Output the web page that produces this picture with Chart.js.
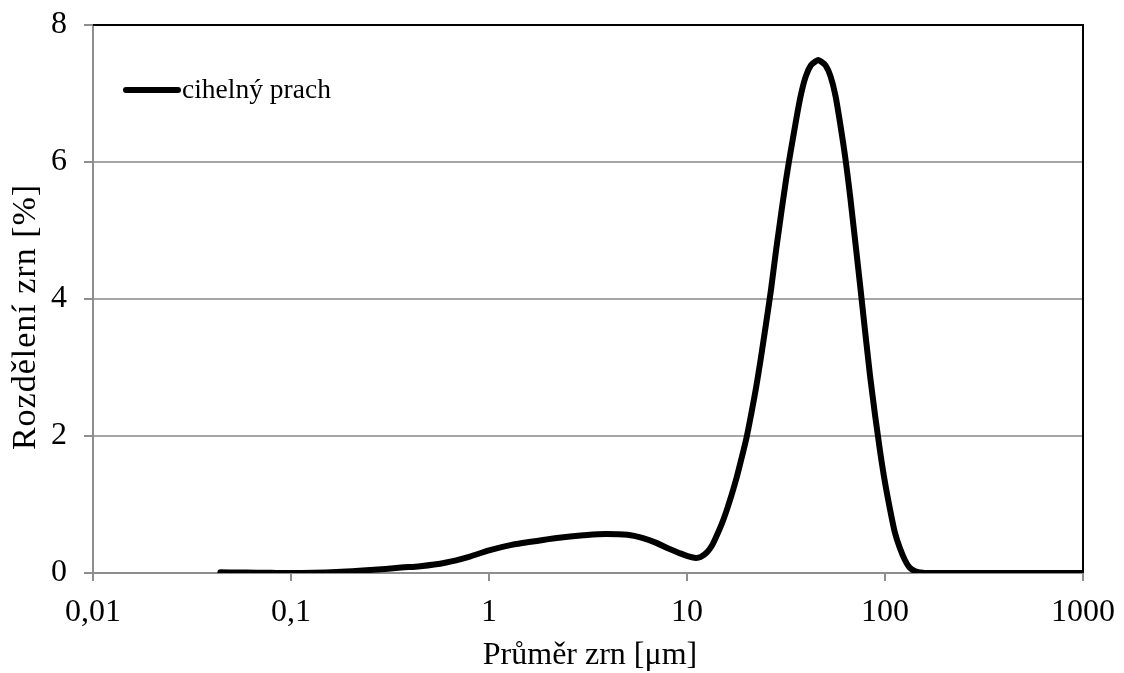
<!DOCTYPE html>
<html>
<head>
<meta charset="utf-8">
<script src="https://cdn.jsdelivr.net/npm/chart.js@4.4.1/dist/chart.umd.min.js"></script>
<style>
  html, body { margin: 0; padding: 0; background: #fff; }
  #wrap { width: 1124px; height: 673px; position: relative; }
</style>
</head>
<body>
<div id="wrap"><canvas id="c" width="1124" height="673"></canvas></div>
<script>
// Grain size distribution of brick dust (laser diffraction)
const seriesLabel = 'cihelný prach';
const xTitle = 'Průměr zrn [μm]';
const yTitle = 'Rozdělení zrn [%]';

// particle diameter [µm]
const diameters = [0.044, 0.06, 0.08, 0.1, 0.13, 0.17, 0.22, 0.3, 0.36, 0.45, 0.6, 0.8, 1.0, 1.3, 1.67,
  2.2, 3.0, 3.9, 5.0, 6.0, 7.0, 8.0, 9.0, 10.0, 11.1, 11.75, 12.6, 13.3, 14.1, 15.0, 15.8, 16.8, 17.8,
  18.8, 20.0, 21.1, 22.4, 23.7, 25.1, 26.6, 28.2, 29.9, 31.6, 33.5, 35.5, 37.6, 39.8, 42.2, 44.7, 46.0,
  47.3, 50.1, 53.1, 56.2, 59.6, 63.1, 66.8, 70.8, 75.0, 79.4, 84.1, 89.1, 94.4, 100, 106, 112, 119,
  126, 133, 141, 150, 158, 200, 300, 500, 1000];

// share of grains [%]
const shares = [0.01, 0.006, 0.002, 0.0, 0.004, 0.015, 0.033, 0.06, 0.08, 0.1, 0.15, 0.24, 0.33, 0.41, 0.46,
  0.51, 0.55, 0.57, 0.56, 0.51, 0.44, 0.36, 0.3, 0.25, 0.22, 0.235, 0.3, 0.39, 0.54, 0.72, 0.9, 1.14, 1.39,
  1.66, 1.98, 2.32, 2.73, 3.17, 3.65, 4.15, 4.72, 5.25, 5.73, 6.18, 6.6, 6.98, 7.25, 7.41, 7.47, 7.49,
  7.47, 7.41, 7.25, 6.97, 6.53, 6.05, 5.48, 4.83, 4.18, 3.52, 2.87, 2.3, 1.78, 1.32, 0.93, 0.6, 0.36,
  0.19, 0.08, 0.03, 0.01, 0.0, 0.0, 0.0, 0.0, 0.0];

const xTickValues = [0.01, 0.1, 1, 10, 100, 1000];
const xTickLabels = ['0,01', '0,1', '1', '10', '100', '1000'];
const yTickValues = [0, 2, 4, 6, 8];

const FONT = "'Liberation Serif', 'Times New Roman', serif";
const AXIS_GREY = '#8e8e8e';
const GRID_GREY = '#a6a6a6';

// black frame on top and right edges of the plot area
const frame = {
  id: 'frame',
  afterDatasetsDraw(chart) {
    const { ctx, chartArea: a } = chart;
    ctx.save();
    ctx.strokeStyle = '#000';
    ctx.lineWidth = 2;
    ctx.beginPath();
    ctx.moveTo(a.left, a.top);
    ctx.lineTo(a.right, a.top);
    ctx.lineTo(a.right, a.bottom);
    ctx.stroke();
    ctx.restore();
  }
};

// legend entry and axis titles
const annotations = {
  id: 'annotations',
  afterDraw(chart) {
    const { ctx, chartArea: a } = chart;
    const ds = chart.data.datasets[0];
    ctx.save();
    // legend
    ctx.strokeStyle = ds.borderColor;
    ctx.lineWidth = ds.borderWidth;
    ctx.lineCap = 'round';
    ctx.beginPath();
    ctx.moveTo(a.left + 33, a.top + 65);
    ctx.lineTo(a.left + 85, a.top + 65);
    ctx.stroke();
    ctx.fillStyle = '#000';
    ctx.font = '27.5px ' + FONT;
    ctx.textAlign = 'left';
    ctx.textBaseline = 'middle';
    ctx.fillText(ds.label, a.left + 89, a.top + 66);
    // x title
    ctx.font = '32px ' + FONT;
    ctx.textAlign = 'center';
    ctx.textBaseline = 'middle';
    ctx.fillText(xTitle, 590, 656);
    // y title
    ctx.font = '34px ' + FONT;
    ctx.letterSpacing = '1px';
    ctx.translate(26, 317);
    ctx.rotate(-Math.PI / 2);
    ctx.fillText(yTitle, 0, 0);
    ctx.restore();
  }
};

new Chart(document.getElementById('c'), {
  type: 'scatter',
  data: {
    datasets: [{
      label: seriesLabel,
      data: diameters.map((d, i) => ({ x: d, y: shares[i] })),
      showLine: true,
      borderColor: '#000',
      borderWidth: 6,
      borderCapStyle: 'round',
      borderJoinStyle: 'round',
      cubicInterpolationMode: 'monotone',
      pointRadius: 0,
      pointHoverRadius: 0,
      fill: false
    }]
  },
  options: {
    responsive: false,
    animation: false,
    events: [],
    layout: { padding: { top: 25, right: 41, left: 0, bottom: 0 } },
    plugins: { legend: { display: false }, tooltip: { enabled: false } },
    scales: {
      x: {
        type: 'logarithmic',
        min: 0.01,
        max: 1000,
        afterBuildTicks(scale) { scale.ticks = xTickValues.map(v => ({ value: v })); },
        afterFit(scale) { scale.height = 100; scale.paddingLeft = 0; scale.paddingRight = 0; },
        ticks: {
          autoSkip: false,
          maxRotation: 0,
          padding: 12,
          color: '#000',
          font: { family: FONT, size: 32 },
          callback(value) {
            const i = xTickValues.findIndex(v => Math.abs(Math.log10(v) - Math.log10(value)) < 1e-6);
            return i >= 0 ? xTickLabels[i] : '';
          }
        },
        grid: { drawOnChartArea: false, drawTicks: true, tickLength: 8, color: AXIS_GREY, lineWidth: 2 },
        border: { display: true, color: AXIS_GREY, width: 2 }
      },
      y: {
        min: 0,
        max: 8,
        afterBuildTicks(scale) { scale.ticks = yTickValues.map(v => ({ value: v })); },
        afterFit(scale) { scale.width = 93; scale.paddingTop = 0; scale.paddingBottom = 0; },
        ticks: {
          padding: 17,
          color: '#000',
          font: { family: FONT, size: 32 }
        },
        grid: { color: GRID_GREY, lineWidth: 2, tickLength: 9, tickColor: AXIS_GREY },
        border: { display: true, color: AXIS_GREY, width: 2 }
      }
    }
  },
  plugins: [frame, annotations]
});
</script>
</body>
</html>
